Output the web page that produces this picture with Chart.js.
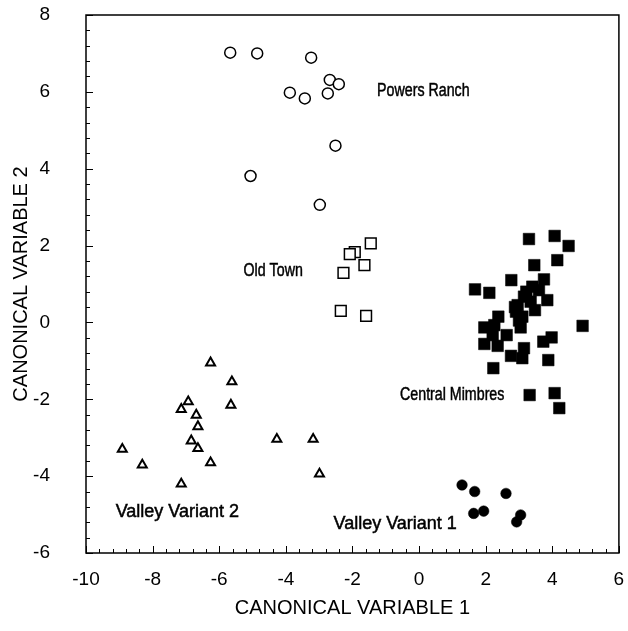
<!DOCTYPE html>
<html>
<head>
<meta charset="utf-8">
<script src="https://cdn.jsdelivr.net/npm/chart.js@4.4.1/dist/chart.umd.min.js"></script>
<style>
  html, body { margin: 0; padding: 0; background: #fff; }
  #wrap { width: 628px; height: 631px; }
</style>
</head>
<body>
<div id="wrap"><canvas id="chart" width="628" height="631"></canvas></div>
<script>
// canonical variable 1 / 2 per group
const powersRanchX = [-5.67, -4.86, -3.24, -2.68, -2.41, -3.88, -3.43, -2.74, -2.51, -5.06, -2.98];
const powersRanchY = [7.02, 7.00, 6.89, 6.31, 6.20, 5.98, 5.83, 5.96, 4.60, 3.81, 3.06];

const oldTownX = [-1.45, -1.93, -2.08, -1.64, -2.27, -2.35, -1.59];
const oldTownY = [2.06, 1.83, 1.78, 1.49, 1.29, 0.30, 0.17];

const centralMimbresX = [3.30, 4.07, 4.49, 4.15, 3.46, 2.77, 3.75, 1.68, 2.11, 3.40, 3.60, 3.85, 3.15, 2.96,
  3.35, 3.48, 2.91, 3.10, 2.38, 3.05, 1.96, 2.26, 4.91, 2.63, 2.21, 1.96, 2.36, 3.98, 3.73, 3.15, 2.76,
  3.10, 3.88, 2.23, 3.32, 4.07, 4.21, 2.88, 3.22, 3.00];
const centralMimbresY = [2.17, 2.25, 1.99, 1.62, 1.49, 1.10, 1.12, 0.86, 0.77, 0.93, 0.84, 0.58, 0.67, 0.45,
  0.54, 0.32, 0.28, 0.15, 0.15, -0.13, -0.13, -0.07, -0.09, -0.33, -0.33, -0.56, -0.61, -0.39, -0.50, -0.67, -0.87,
  -0.93, -0.98, -1.19, -1.89, -1.84, -2.23, 0.40, 0.80, 0.05];

const valley2X = [-6.26, -5.62, -6.93, -7.14, -5.65, -6.69, -6.64, -6.84, -6.64, -8.91, -8.31, -6.26, -7.14, -4.27, -3.18, -2.99];
const valley2Y = [-1.05, -1.54, -2.06, -2.26, -2.15, -2.41, -2.71, -3.08, -3.28, -3.30, -3.71, -3.65, -4.20, -3.04, -3.04, -3.94];

const valley1X = [1.29, 1.67, 2.61, 1.64, 1.94, 3.05, 2.93];
const valley1Y = [-4.23, -4.40, -4.45, -4.97, -4.91, -5.01, -5.19];

const xTicks = [-10, -8, -6, -4, -2, 0, 2, 4, 6];
const yTicks = [-6, -4, -2, 0, 2, 4, 6, 8];

// group names and where they are written (data units, left edge / middle)
const groupLabels = ["Powers Ranch", "Old Town", "Central Mimbres", "Valley Variant 2", "Valley Variant 1"];
const labelX = [-1.26, -5.27, -0.57, -9.11, -2.57];
const labelY = [6.02, 1.34, -1.89, -4.93, -5.25];

function points(xs, ys) {
  return xs.map((x, i) => ({ x: x, y: ys[i] }));
}

const sans = "'Liberation Sans', Arial, Helvetica, sans-serif";

function noPadding(s) {
  s.paddingTop = 0;
  s.paddingBottom = 0;
  s.paddingLeft = 0;
  s.paddingRight = 0;
}

// box + inward ticks every 0.4
const framePlugin = {
  id: "frame",
  afterDatasetsDraw(chart) {
    const { ctx, chartArea: a, scales } = chart;
    ctx.save();
    ctx.strokeStyle = "#000";
    ctx.lineWidth = 1.5;
    ctx.strokeRect(a.left, a.top, a.right - a.left, a.bottom - a.top);
    ctx.lineWidth = 1;
    ctx.beginPath();
    for (let i = 0; i <= 40; i++) {
      const v = -10 + i * 0.4;
      const major = i % 5 === 0;
      const px = Math.round(scales.x.getPixelForValue(v)) + 0.5;
      ctx.moveTo(px, a.bottom);
      ctx.lineTo(px, a.bottom - (major ? 7 : 4));
    }
    for (let i = 0; i <= 35; i++) {
      const v = -6 + i * 0.4;
      const major = i % 5 === 0;
      const py = Math.round(scales.y.getPixelForValue(v)) + 0.5;
      ctx.moveTo(a.left, py);
      ctx.lineTo(a.left + (major ? 7 : 4), py);
    }
    ctx.stroke();

    // group names; the upper three are set condensed
    ctx.fillStyle = "#000";
    ctx.strokeStyle = "#000";
    ctx.lineWidth = 0.5;
    ctx.textAlign = "left";
    ctx.textBaseline = "middle";
    ctx.font = "18px " + sans;
    groupLabels.forEach((t, i) => {
      const px = scales.x.getPixelForValue(labelX[i]);
      const py = scales.y.getPixelForValue(labelY[i]);
      const sx = i >= 3 ? 1 : 0.79;
      ctx.save();
      ctx.translate(px, py);
      ctx.scale(sx, 1);
      ctx.fillText(t, 0, 0);
      ctx.strokeText(t, 0, 0);
      ctx.restore();
    });
    ctx.restore();
  }
};

new Chart(document.getElementById("chart"), {
  type: "scatter",
  data: {
    datasets: [
      {
        label: groupLabels[0],
        data: points(powersRanchX, powersRanchY),
        pointStyle: "circle",
        pointRadius: 5.5,
        borderWidth: 1.5,
        borderColor: "#000",
        backgroundColor: "#fff"
      },
      {
        label: groupLabels[1],
        data: points(oldTownX, oldTownY),
        pointStyle: "rect",
        pointRadius: 7.6,
        borderWidth: 1.5,
        borderColor: "#000",
        backgroundColor: "#fff"
      },
      {
        label: groupLabels[2],
        data: points(centralMimbresX, centralMimbresY),
        pointStyle: "rect",
        pointRadius: 8.2,
        borderWidth: 0.5,
        borderColor: "#000",
        backgroundColor: "#000"
      },
      {
        label: groupLabels[3],
        data: points(valley2X, valley2Y),
        pointStyle: "triangle",
        pointRadius: 5.2,
        borderWidth: 2,
        borderColor: "#000",
        backgroundColor: "#fff"
      },
      {
        label: groupLabels[4],
        data: points(valley1X, valley1Y),
        pointStyle: "circle",
        pointRadius: 5.3,
        borderWidth: 0.5,
        borderColor: "#000",
        backgroundColor: "#000"
      }
    ]
  },
  options: {
    responsive: false,
    animation: false,
    events: [],
    layout: { padding: { top: 15, right: 4, left: 0, bottom: 0 } },
    plugins: {
      legend: { display: false },
      tooltip: { enabled: false }
    },
    scales: {
      x: {
        type: "linear",
        min: -10,
        max: 6,
        afterBuildTicks: s => { s.ticks = xTicks.map(v => ({ value: v })); },
        afterFit: s => { s.height = 78; noPadding(s); },
        grid: { display: false, drawTicks: false },
        border: { display: false },
        ticks: {
          padding: 15,
          color: "#000",
          font: { family: sans, size: 19 }
        },
        title: {
          display: true,
          text: "CANONICAL VARIABLE 1",
          color: "#000",
          font: { family: sans, size: 20 },
          padding: { top: 0, bottom: 11 }
        }
      },
      y: {
        type: "linear",
        min: -6,
        max: 8,
        afterBuildTicks: s => { s.ticks = yTicks.map(v => ({ value: v })); },
        afterFit: s => { s.width = 86; noPadding(s); },
        grid: { display: false, drawTicks: false },
        border: { display: false },
        ticks: {
          padding: 36,
          color: "#000",
          font: { family: sans, size: 19 }
        },
        title: {
          display: true,
          text: "CANONICAL VARIABLE 2",
          color: "#000",
          font: { family: sans, size: 20 },
          padding: { top: 9, bottom: 0 }
        }
      }
    }
  },
  plugins: [framePlugin]
});
</script>
</body>
</html>
